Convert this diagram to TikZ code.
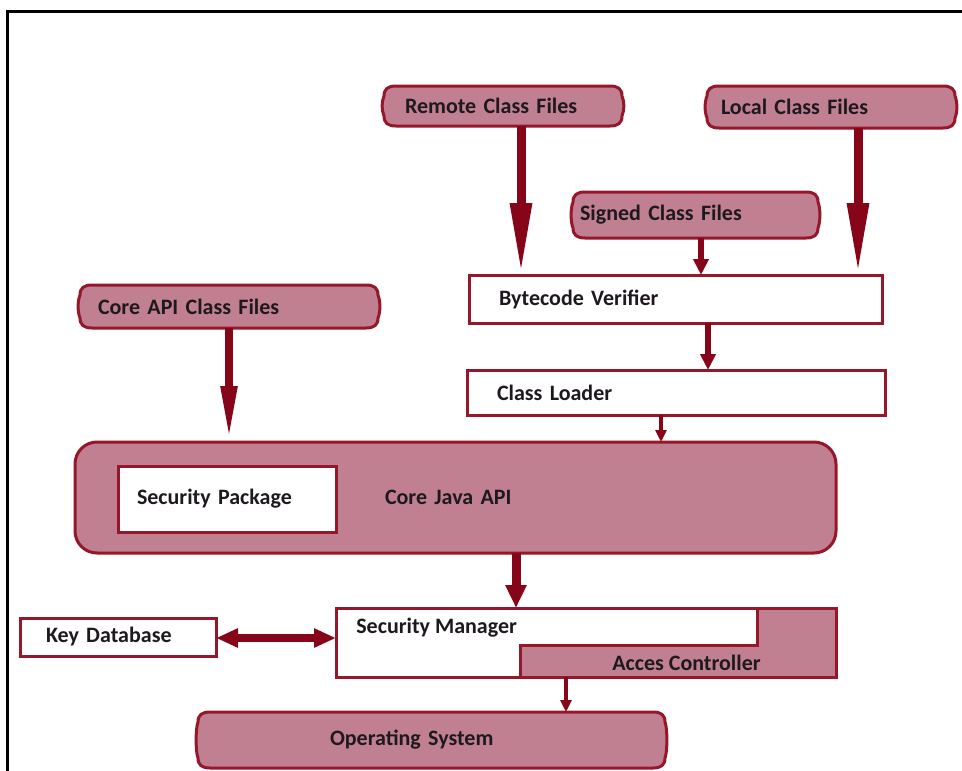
\documentclass[tikz,border=0pt]{standalone}
\usepackage{fontspec}
\setmainfont{Carlito}
\usetikzlibrary{arrows.meta,calc,backgrounds}

\definecolor{boxred}{RGB}{150,22,42}
\definecolor{arrowred}{RGB}{135,5,25}
\definecolor{mauve}{RGB}{192,128,146}
\definecolor{ink}{RGB}{30,25,30}

% outline of the rounded "file" blobs, drawn behind a named node
\newcommand\scrollbg[1]{%
  \path[scroll] let \p1=(#1.north west), \p2=(#1.south east) in
    (\x1+12pt,\y1) -- (\x2-12pt,\y1)
    .. controls (\x2-4pt,\y1) and (\x2,\y1-3pt) .. (\x2,\y1-10pt)
    .. controls (\x2+2.5pt,\y1-16pt) and (\x2+2.5pt,\y2+16pt) .. (\x2,\y2+10pt)
    .. controls (\x2,\y2+3pt) and (\x2-4pt,\y2) .. (\x2-12pt,\y2)
    -- (\x1+12pt,\y2)
    .. controls (\x1+4pt,\y2) and (\x1,\y2+3pt) .. (\x1,\y2+10pt)
    .. controls (\x1-2.5pt,\y2+16pt) and (\x1-2.5pt,\y1-16pt) .. (\x1,\y1-10pt)
    .. controls (\x1,\y1-3pt) and (\x1+4pt,\y1) .. cycle;}

\tikzset{
  every node/.style={font=\fontsize{22}{26}\selectfont\bfseries, text=ink,
    outer sep=0pt, inner ysep=0pt, align=left},
  scrollnode/.style={draw=none},
  scroll/.style={draw=boxred, fill=mauve, line width=3pt},
  whitebox/.style={draw=boxred, fill=white, line width=3pt},
  corebox/.style={draw=boxred, fill=mauve, line width=3pt, rounded corners=22pt},
  longarrow/.style={draw=arrowred, line width=9pt, -{Triangle[length=72pt,width=20pt]}},
  midarrow/.style={draw=arrowred, line width=9pt, -{Triangle[length=23pt,width=20pt]}},
  smallarrow/.style={draw=arrowred, line width=6pt, -{Triangle[length=16pt,width=15pt]}},
  thinarrow/.style={draw=arrowred, line width=4pt, -{Triangle[length=12pt,width=11pt]}},
  twoway/.style={draw=arrowred, line width=8pt,
    {Triangle[length=22pt,width=18pt]}-{Triangle[length=22pt,width=18pt]}},
}

\begin{document}
\begin{tikzpicture}[x=1pt,y=-1pt]
\useasboundingbox (0,0) rectangle (962,771);

% outer frame
\draw[line width=3pt, black] (7,790) -- (7,11) -- (980,11);

% class file sources
\node[scrollnode, text width=196pt, inner xsep=21pt, minimum height=40pt] (remote) at (503,106) {Remote Class Files};
\node[scrollnode, text width=220pt, inner xsep=14pt, minimum height=42pt] (local) at (831,107) {Local Class Files};
\node[scrollnode, text width=231pt, inner xsep=7pt, minimum height=46pt] (signed) at (695.5,215) {Signed Class Files};
\node[scrollnode, text width=262pt, inner xsep=18pt, minimum height=43pt] (coreapi) at (229,306.5) {Core API Class Files};

% verifier and loader
\node[whitebox, text width=353pt, inner xsep=30pt, minimum height=48pt] (bytecode) at (675.5,299) {Bytecode Verifier};
\node[whitebox, text width=358pt, inner xsep=30pt, minimum height=45pt] (loader) at (676,392.5) {Class Loader};

% core API block
\node[corebox, text width=141pt, inner xsep=310pt, minimum height=111pt] (corejava) at (455.5,497.5) {Core Java API};
\node[whitebox, text width=180pt, inner xsep=19pt, minimum height=66pt] (secpkg) at (227,499) {Security Package};

% key store and security manager
\node[whitebox, text width=144pt, inner xsep=26pt, minimum height=38pt] (keydb) at (118,637) {Key Database};
\node[whitebox, minimum width=500pt, minimum height=69pt, inner xsep=0pt] (secmgr) at (586,642.5) {};
\path[draw=boxred, fill=mauve, line width=3pt]
  ($(secmgr.north east)+(-79,0)$) -- (secmgr.north east) -- (secmgr.south east)
  -- ($(secmgr.south west)+(184,0)$) -- ($(secmgr.north west)+(184,37)$)
  -- ($(secmgr.north east)+(-79,37)$) -- cycle;
\node[anchor=west] (smtext) at ($(secmgr.north west)+(17,20)$) {Security Manager};
\node[anchor=west] (actext) at ($(secmgr.south west)+(273,-14)$) {Acces Controller};

% operating system
\node[scrollnode, text width=203pt, inner xsep=132pt, minimum height=56pt] (os) at (431.5,740) {Operating System};

\begin{pgfonlayer}{background}
  \scrollbg{remote}
  \scrollbg{local}
  \scrollbg{signed}
  \scrollbg{coreapi}
  \scrollbg{os}
\end{pgfonlayer}

% connectors
\draw[longarrow] ([xshift=18pt]remote.south) -- ([xshift=18pt]remote.south |- bytecode.north);
\draw[longarrow] ([xshift=27pt]local.south) -- ([xshift=27pt]local.south |- bytecode.north);
\draw[smallarrow] ([xshift=5.5pt]signed.south) -- ([xshift=5.5pt]signed.south |- bytecode.north);
\draw[smallarrow] ([xshift=32.5pt]bytecode.south) -- ([xshift=32.5pt]bytecode.south |- loader.north);
\draw[thinarrow] ([xshift=-15pt]loader.south) -- ([xshift=-15pt]loader.south |- corejava.north);
\draw[draw=arrowred, line width=8pt, -{Triangle[length=56pt,width=15pt]}] (coreapi.south) -- (coreapi.south |- corejava.north);
\draw[midarrow] ([xshift=60.5pt]corejava.south) -- ([xshift=60.5pt]corejava.south |- secmgr.north);
\draw[twoway] ([yshift=-1pt]keydb.east) -- ([yshift=-1pt]keydb.east -| secmgr.west);
\draw[thinarrow] ([xshift=-20pt]secmgr.south) -- ([xshift=-20pt]secmgr.south |- os.north);

\end{tikzpicture}
\end{document}
